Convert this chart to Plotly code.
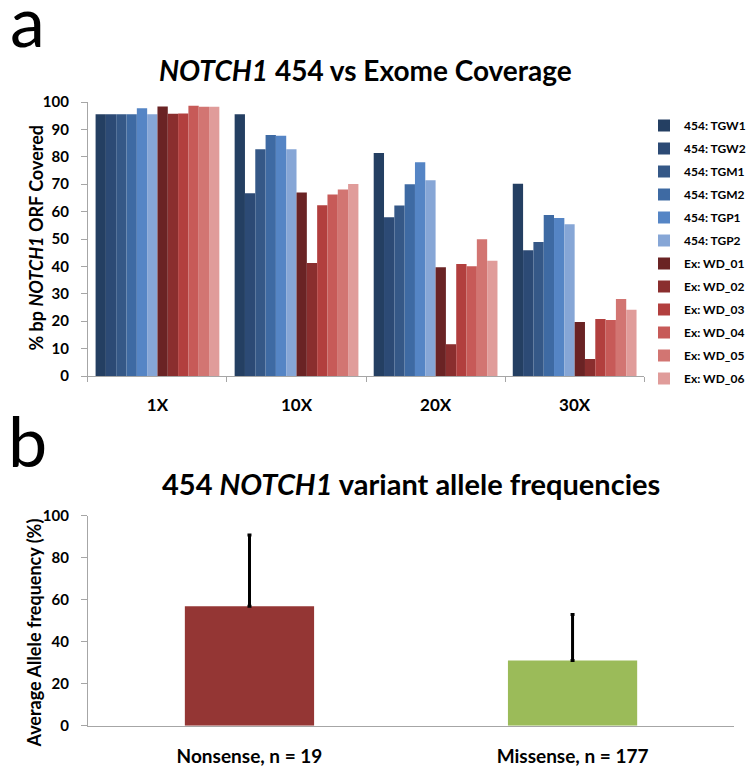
import plotly.graph_objects as go

# ---- Panel a data ----
coverage_levels = ["1X", "10X", "20X", "30X"]
series_names = ["454: TGW1", "454: TGW2", "454: TGM1", "454: TGM2", "454: TGP1", "454: TGP2",
                "Ex: WD_01", "Ex: WD_02", "Ex: WD_03", "Ex: WD_04", "Ex: WD_05", "Ex: WD_06"]
tgw1 = [95.5, 95.5, 81.4, 70.2]
tgw2 = [95.5, 66.7, 57.9, 45.9]
tgm1 = [95.5, 82.8, 62.2, 48.9]
tgm2 = [95.5, 88.0, 70.0, 58.8]
tgp1 = [97.7, 87.7, 78.0, 57.7]
tgp2 = [95.5, 82.8, 71.4, 55.4]
wd01 = [98.4, 67.0, 39.7, 19.7]
wd02 = [95.7, 41.2, 11.6, 6.2]
wd03 = [95.8, 62.3, 40.9, 20.8]
wd04 = [98.6, 66.2, 40.1, 20.4]
wd05 = [98.3, 68.1, 49.9, 28.1]
wd06 = [98.3, 70.1, 42.1, 24.2]
series_values = [tgw1, tgw2, tgm1, tgm2, tgp1, tgp2, wd01, wd02, wd03, wd04, wd05, wd06]
series_colors = ["#243F62", "#2C4A75", "#355887", "#3E6AA3", "#5585C5", "#86A6D6",
                 "#6A2324", "#8A2E2E", "#B23F3E", "#C75A58", "#D27572", "#E09C9A"]

# ---- Panel b data ----
variant_types = ["Nonsense, n = 19", "Missense, n = 177"]
avg_freq = [56.9, 31.1]
freq_err = [33.9, 21.9]
variant_colors = ["#943634", "#9BBB59"]

FONT = "Lato"
W, H = 751, 771

fig = go.Figure()
for name, vals, col in zip(series_names, series_values, series_colors):
    fig.add_trace(go.Bar(
        x=coverage_levels, y=vals, name=name, marker=dict(color=col, line=dict(width=0)),
        xaxis="x", yaxis="y", legendgroup=name, showlegend=True))

fig.add_trace(go.Bar(
    x=variant_types, y=avg_freq, marker=dict(color=variant_colors, line=dict(width=0)),
    error_y=dict(type="data", array=freq_err, symmetric=False, arrayminus=[0, 0],
                 color="black", thickness=3, width=2),
    xaxis="x2", yaxis="y2", showlegend=False, width=0.4))

def px_x(p):
    return p / W

def px_y(p):
    return 1 - p / H

axis_gray = "#A6A6A6"
fig.update_layout(
    template="none",
    width=W, height=H, margin=dict(l=0, r=0, t=0, b=0, pad=0), autosize=False,
    paper_bgcolor="white", plot_bgcolor="white",
    barmode="group", bargap=0.11, bargroupgap=0,
    font=dict(family=FONT, color="black"),
    xaxis=dict(domain=[px_x(89), px_x(652)], anchor="y", type="category", automargin=False,
               showline=True, linecolor=axis_gray, linewidth=1,
               ticks="outside", tickson="boundaries", ticklen=5, tickcolor=axis_gray,
               tickfont=dict(size=17, family=FONT, weight="bold", color="black"),
               showgrid=False, zeroline=False, ticklabelstandoff=14),
    yaxis=dict(domain=[px_y(376), px_y(102)], anchor="x", range=[0, 100], automargin=False,
               dtick=10, showline=True, linecolor=axis_gray, linewidth=1,
               ticks="outside", ticklen=6, tickcolor=axis_gray, showgrid=False,
               zeroline=False, ticklabelstandoff=9,
               tickfont=dict(size=15, family=FONT, weight="bold", color="black")),
    xaxis2=dict(domain=[px_x(89), px_x(743)], anchor="y2", type="category", automargin=False,
                showline=True, linecolor=axis_gray, linewidth=1, ticks="",
                tickfont=dict(size=19, family=FONT, weight="bold", color="black"),
                showgrid=False, zeroline=False, ticklabelstandoff=13),
    yaxis2=dict(domain=[px_y(725.7), px_y(515.7)], anchor="x2", range=[0, 100], automargin=False,
                dtick=20, showline=True, linecolor=axis_gray, linewidth=1,
                ticks="outside", ticklen=6, tickcolor=axis_gray, showgrid=False,
                zeroline=False, ticklabelstandoff=9,
                tickfont=dict(size=15, family=FONT, weight="bold", color="black")),
    legend=dict(x=px_x(652), y=px_y(111), xanchor="left", yanchor="top",
                font=dict(size=12, family=FONT, weight="bold", color="black"),
                tracegroupgap=4, itemwidth=30, bgcolor="rgba(0,0,0,0)", borderwidth=0),
    annotations=[
        dict(text="a", x=px_x(8), y=px_y(64), xref="paper", yref="paper",
             xanchor="left", yanchor="bottom", showarrow=False,
             font=dict(size=70, family=FONT)),
        dict(text="b", x=px_x(6), y=px_y(484), xref="paper", yref="paper",
             xanchor="left", yanchor="bottom", showarrow=False,
             font=dict(size=70, family=FONT)),
        dict(text="<b><i>NOTCH1</i> 454 vs Exome Coverage</b>", x=px_x(370), y=px_y(70),
             xref="paper", yref="paper", xanchor="center", yanchor="middle",
             showarrow=False, font=dict(size=28, family=FONT)),
        dict(text="<b>454 <i>NOTCH1</i> variant allele frequencies</b>", x=px_x(416), y=px_y(483),
             xref="paper", yref="paper", xanchor="center", yanchor="middle",
             showarrow=False, font=dict(size=29, family=FONT)),
        dict(text="<b>% bp <i>NOTCH1</i> ORF Covered</b>", x=px_x(36), y=px_y(238),
             xref="paper", yref="paper", xanchor="center", yanchor="middle",
             textangle=-90, showarrow=False, font=dict(size=18, family=FONT)),
        dict(text="<b>Average Allele frequency (%)</b>", x=px_x(34), y=px_y(633),
             xref="paper", yref="paper", xanchor="center", yanchor="middle",
             textangle=-90, showarrow=False, font=dict(size=18, family=FONT)),
    ],
)

fig.write_html("out.html", config={"displayModeBar": False},
               post_script="document.body.style.margin='0';")
